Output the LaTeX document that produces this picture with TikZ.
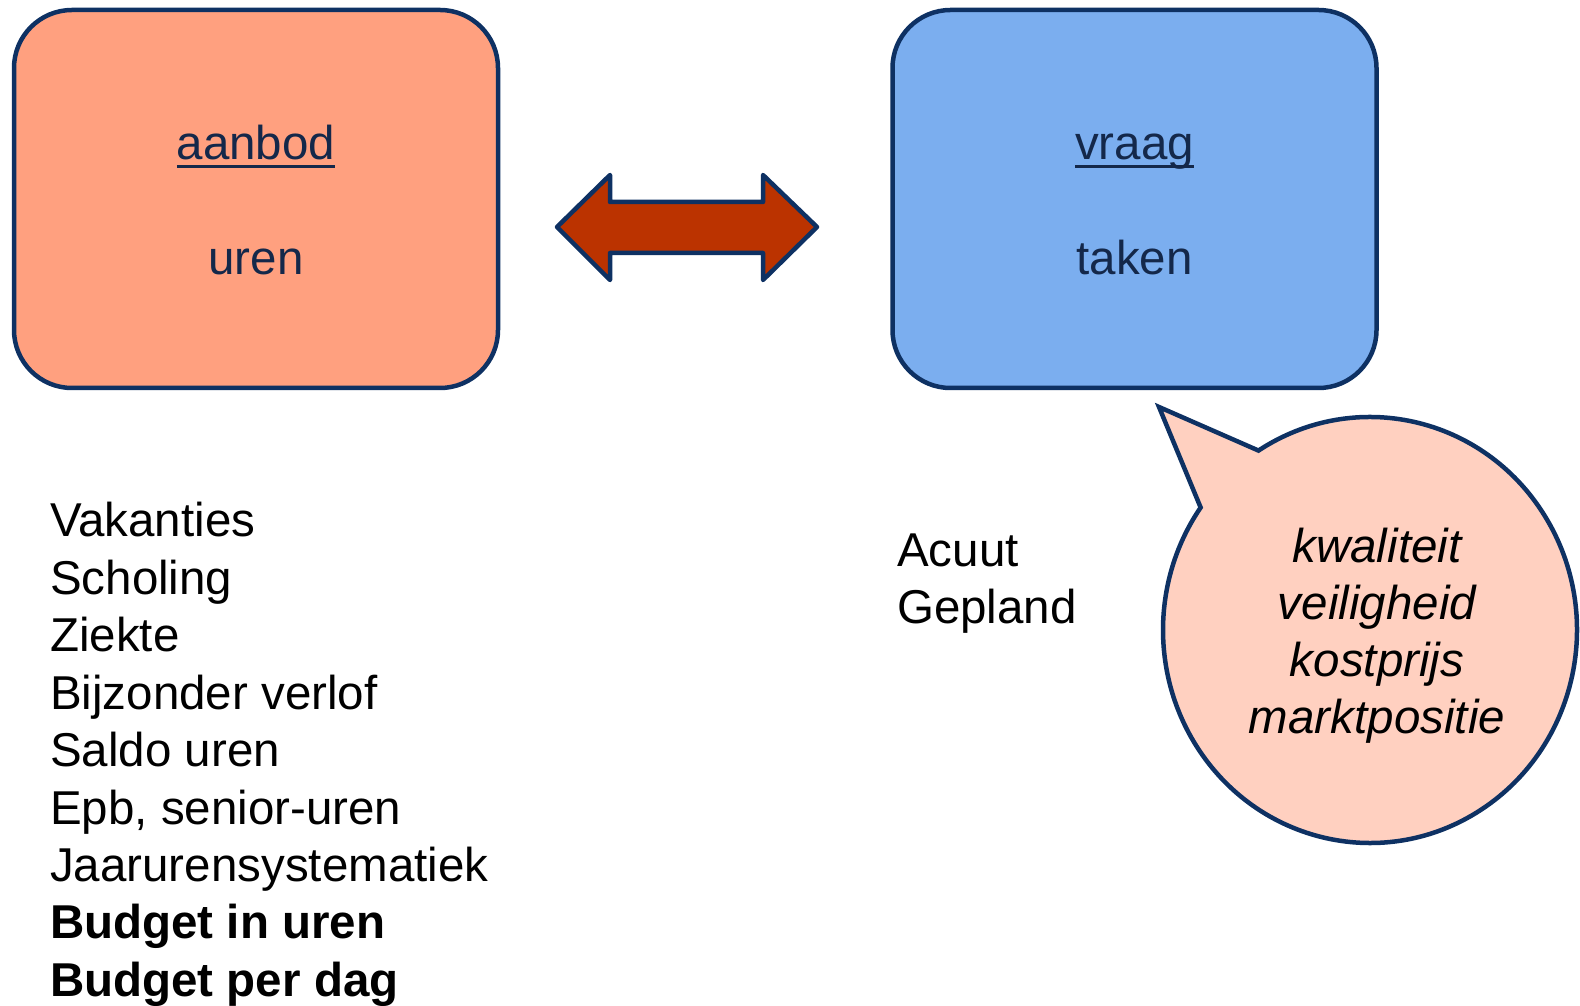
\documentclass[tikz,border=0pt]{standalone}
\usepackage{fontspec}
\setmainfont{Liberation Sans}
\usetikzlibrary{calc}
\definecolor{navy}{HTML}{0E3163}
\definecolor{boxtext}{HTML}{14284A}
\definecolor{salmon}{HTML}{FFA07F}
\definecolor{skyblue}{HTML}{7BAEEF}
\definecolor{rust}{HTML}{BB3300}
\definecolor{peach}{HTML}{FFD0C0}
\newcommand{\myul}[1]{\setbox0\hbox{#1}\rlap{\rule[-8pt]{\wd0}{3pt}}\box0}
\begin{document}
\begin{tikzpicture}[x=1pt,y=1pt,
  bigfont/.style={font=\fontsize{47.5}{57}\selectfont},
  panel/.style={draw=navy,line width=4.5pt,rounded corners=58pt,minimum width=484pt,minimum height=378pt,inner sep=0pt},
  boxlabel/.style={bigfont,text=boxtext,anchor=base,inner sep=0pt},
  listitem/.style={bigfont,text=black,anchor=base west,inner sep=0pt},
  bubbleitem/.style={bigfont,text=black,anchor=base,inner sep=0pt,font=\fontsize{47.5}{57}\selectfont\itshape}
]
\useasboundingbox (0,0) rectangle (1580,1005);
% boxes
\node[panel,fill=salmon] (aanbodbox) at (256,806) {};
\node[panel,fill=skyblue] (vraagbox) at (1134.5,806) {};
\node[boxlabel] (aanbod) at (256,845) {\myul{aanbod}};
\node[boxlabel] (uren) at (256,730) {uren};
\node[boxlabel] (vraag) at (1134.5,845) {\myul{vraag}};
\node[boxlabel] (taken) at (1134.5,730) {taken};
% double arrow
\draw[navy,line width=4.5pt,line join=round,fill=rust]
  (557,778) -- (610,830) -- (610,803) -- (763,803) -- (763,830) -- (817,778)
  -- (763,725) -- (763,752) -- (610,752) -- (610,725) -- cycle;
% left list
\foreach \t [count=\i from 0] in {Vakanties,Scholing,Ziekte,Bijzonder verlof,Saldo uren,{Epb, senior-uren},Jaarurensystematiek}
  \node[listitem] (item\i) at (50,{1005-537-57.4*\i}) {\t};
\node[listitem,font=\fontsize{47.5}{57}\selectfont\bfseries] (item7) at (50,{1005-537-57.4*7}) {Budget in uren};
\node[listitem,font=\fontsize{47.5}{57}\selectfont\bfseries] (item8) at (50,{1005-537-57.4*8}) {Budget per dag};
% right list
\node[listitem] (acuut) at (897,{1005-567}) {Acuut};
\node[listitem] (gepland) at (897,{1005-624}) {Gepland};
% speech bubble
\coordinate (bc) at (1370,375);
\coordinate (tip) at (1159,598);
\draw[navy,line width=4.5pt,line join=miter,fill=peach]
  (tip) -- ($(bc)+(122.6:207pt and 213pt)$)
  arc[start angle=122.6,end angle=-215.1,x radius=207pt,y radius=213pt] -- cycle;
\node[bubbleitem] (kwaliteit) at (1377,{1005-563}) {kwaliteit};
\node[bubbleitem] (veiligheid) at (1377,{1005-620}) {veiligheid};
\node[bubbleitem] (kostprijs) at (1377,{1005-677}) {kostprijs};
\node[bubbleitem] (marktpositie) at (1377,{1005-734}) {marktpositie};
\end{tikzpicture}
\end{document}
